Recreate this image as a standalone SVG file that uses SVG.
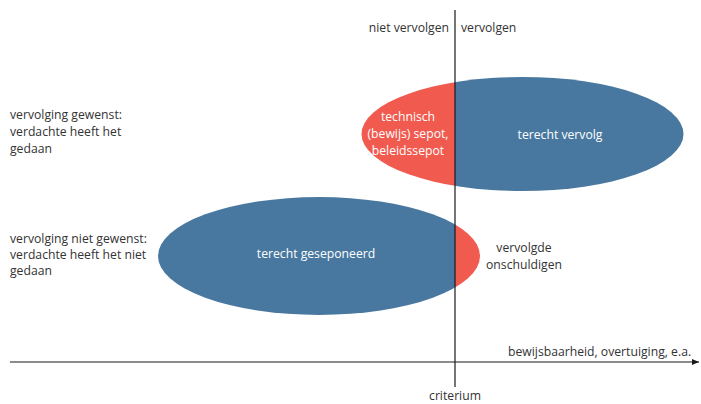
<svg xmlns="http://www.w3.org/2000/svg" width="701" height="404" viewBox="0 0 701 404">
<style>
text{font-family:"Open Sans","Noto Sans",sans-serif;font-size:12.2px;fill:#333}
.w{fill:#fff;text-anchor:middle}
.m{text-anchor:middle}
.blue{fill:#4878a0}
.red{fill:#f15a4f}
.ax{stroke:#1a1a1a;stroke-width:1.2;fill:none}
</style>
<defs>
<clipPath id="leftHalf"><rect x="0" y="0" width="455" height="404"/></clipPath>
<clipPath id="rightHalf"><rect x="455" y="0" width="246" height="404"/></clipPath>
<marker id="arr" markerWidth="8" markerHeight="8" refX="7" refY="4" orient="auto" markerUnits="userSpaceOnUse"><path d="M0,1 L7,4 L0,7 Z" fill="#1a1a1a"/></marker>
</defs>
<g id="top-ellipse">
<ellipse class="blue" cx="522.5" cy="134" rx="161" ry="57" clip-path="url(#rightHalf)"/>
<ellipse class="red" cx="522.5" cy="134" rx="161" ry="57" clip-path="url(#leftHalf)"/>
<text class="w" x="408" y="121">technisch</text>
<text class="w" x="408" y="138">(bewijs) sepot,</text>
<text class="w" x="408" y="155">beleidssepot</text>
<text class="w" x="560" y="139">terecht vervolg</text>
</g>
<g id="bottom-ellipse">
<ellipse class="blue" cx="319" cy="256" rx="161" ry="59" clip-path="url(#leftHalf)"/>
<ellipse class="red" cx="319" cy="256" rx="161" ry="59" clip-path="url(#rightHalf)"/>
<text class="w" x="316" y="258">terecht geseponeerd</text>
</g>
<g id="connectors">
<line class="ax" x1="455" y1="10" x2="455" y2="387"/>
<line class="ax" x1="10" y1="362" x2="699" y2="362" marker-end="url(#arr)"/>
</g>
<g id="labels">
<text x="449" y="32" text-anchor="end">niet vervolgen</text>
<text x="461" y="32">vervolgen</text>
<text x="10" y="119">vervolging gewenst:</text>
<text x="10" y="136">verdachte heeft het</text>
<text x="10" y="153">gedaan</text>
<text x="10" y="243">vervolging niet gewenst:</text>
<text x="10" y="259">verdachte heeft het niet</text>
<text x="10" y="275">gedaan</text>
<text class="m" x="524" y="252">vervolgde</text>
<text class="m" x="524" y="269">onschuldigen</text>
<text x="508" y="356">bewijsbaarheid, overtuiging, e.a.</text>
<text class="m" x="455" y="400">criterium</text>
</g>
</svg>
